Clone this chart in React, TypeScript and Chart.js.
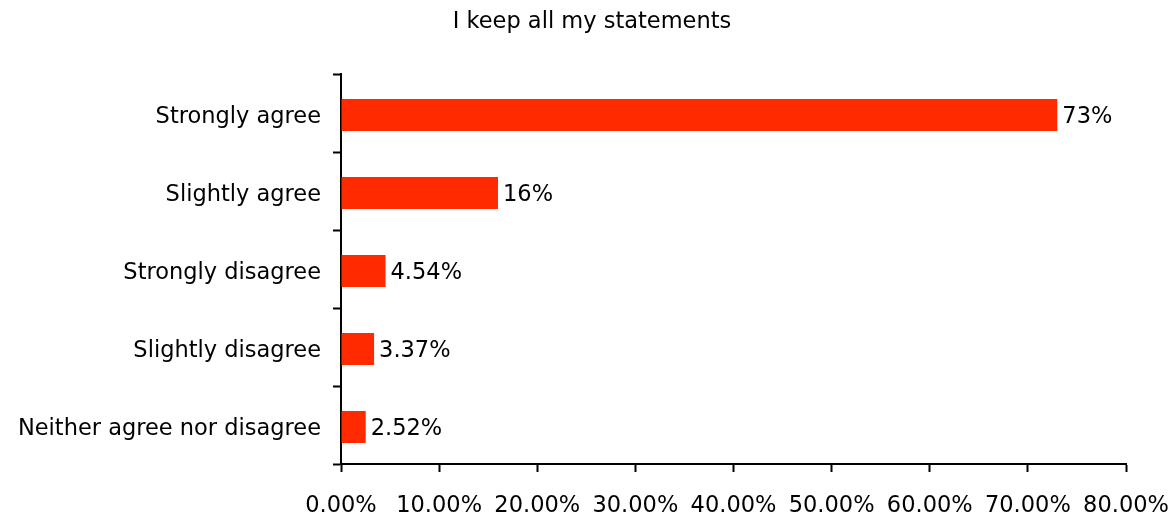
import React, { useEffect, useRef } from "react";
import { Chart, registerables } from "chart.js";

Chart.register(...registerables);

const title = "I keep all my statements";
const categories = [
  "Strongly agree",
  "Slightly agree",
  "Strongly disagree",
  "Slightly disagree",
  "Neither agree nor disagree",
];
const values = [73, 16, 4.54, 3.37, 2.52];
const valueLabels = ["73%", "16%", "4.54%", "3.37%", "2.52%"];
const xMin = 0;
const xMax = 80;
const xStep = 10;

const FONT = "'DejaVu Sans', Verdana, sans-serif";
const FS = 22.5;
const BAR_SHIFT = 2;

const barShiftPlugin = {
  id: "barShift",
  beforeDatasetsDraw(chart: any) {
    chart.ctx.save();
    chart.ctx.translate(0, BAR_SHIFT);
  },
  afterDatasetsDraw(chart: any) {
    chart.ctx.restore();
  },
};

const valueLabelPlugin = {
  id: "valueLabels",
  afterDatasetsDraw(chart: any) {
    const ctx = chart.ctx;
    const meta = chart.getDatasetMeta(0);
    ctx.save();
    ctx.font = `${FS}px ${FONT}`;
    ctx.fillStyle = "#000";
    ctx.textAlign = "left";
    ctx.textBaseline = "middle";
    meta.data.forEach((bar: any, i: number) => {
      ctx.fillText(valueLabels[i], bar.x + 5, bar.y + 4);
    });
    ctx.restore();
  },
};

const titlePlugin = {
  id: "customTitle",
  afterDraw(chart: any) {
    const ctx = chart.ctx;
    ctx.save();
    ctx.font = `${FS}px ${FONT}`;
    ctx.fillStyle = "#000";
    ctx.textAlign = "center";
    ctx.textBaseline = "middle";
    ctx.fillText(title, 592, 22);
    ctx.restore();
  },
};

export default function App() {
  const ref = useRef<HTMLCanvasElement>(null);
  useEffect(() => {
    if (!ref.current) return;
    const chart = new Chart(ref.current, {
      type: "bar",
      data: {
        labels: categories,
        datasets: [
          {
            data: values,
            backgroundColor: "#ff2a00",
            borderWidth: 0,
            categoryPercentage: 1,
            barPercentage: 0.41,
          },
        ],
      },
      options: {
        indexAxis: "y",
        animation: false,
        responsive: false,
        maintainAspectRatio: false,
        layout: { padding: { left: 0, right: 45, top: 74, bottom: 0 } },
        plugins: {
          legend: { display: false },
          tooltip: { enabled: false },
          title: { display: false },
        },
        scales: {
          x: {
            min: xMin,
            max: xMax,
            grid: {
              drawOnChartArea: false,
              drawTicks: true,
              tickLength: 8,
              tickWidth: 2,
              tickColor: "#000",
            },
            border: { color: "#000", width: 2 },
            ticks: {
              stepSize: xStep,
              color: "#000",
              padding: 21,
              maxRotation: 0,
              autoSkip: false,
              font: { family: FONT, size: FS },
              callback: (v: any) => Number(v).toFixed(2) + "%",
            },
            afterFit: (scale: any) => {
              scale.height = 50;
              scale.paddingLeft = 0;
              scale.paddingRight = 0;
            },
          },
          y: {
            grid: {
              offset: true,
              drawOnChartArea: false,
              drawTicks: true,
              tickLength: 8,
              tickWidth: 2,
              tickColor: "#000",
            },
            border: { color: "#000", width: 2 },
            ticks: {
              color: "#000",
              padding: 12,
              labelOffset: 4,
              font: { family: FONT, size: FS },
            },
            afterFit: (scale: any) => {
              scale.width = 341;
              scale.paddingTop = 0;
              scale.paddingBottom = 0;
            },
          },
        },
      },
      plugins: [barShiftPlugin, valueLabelPlugin, titlePlugin],
    });
    return () => chart.destroy();
  }, []);
  return (
    <div style={{ position: "absolute", left: 0, top: 0, width: 1171, height: 514, background: "#fff" }}>
      <canvas ref={ref} width={1171} height={514} />
    </div>
  );
}
